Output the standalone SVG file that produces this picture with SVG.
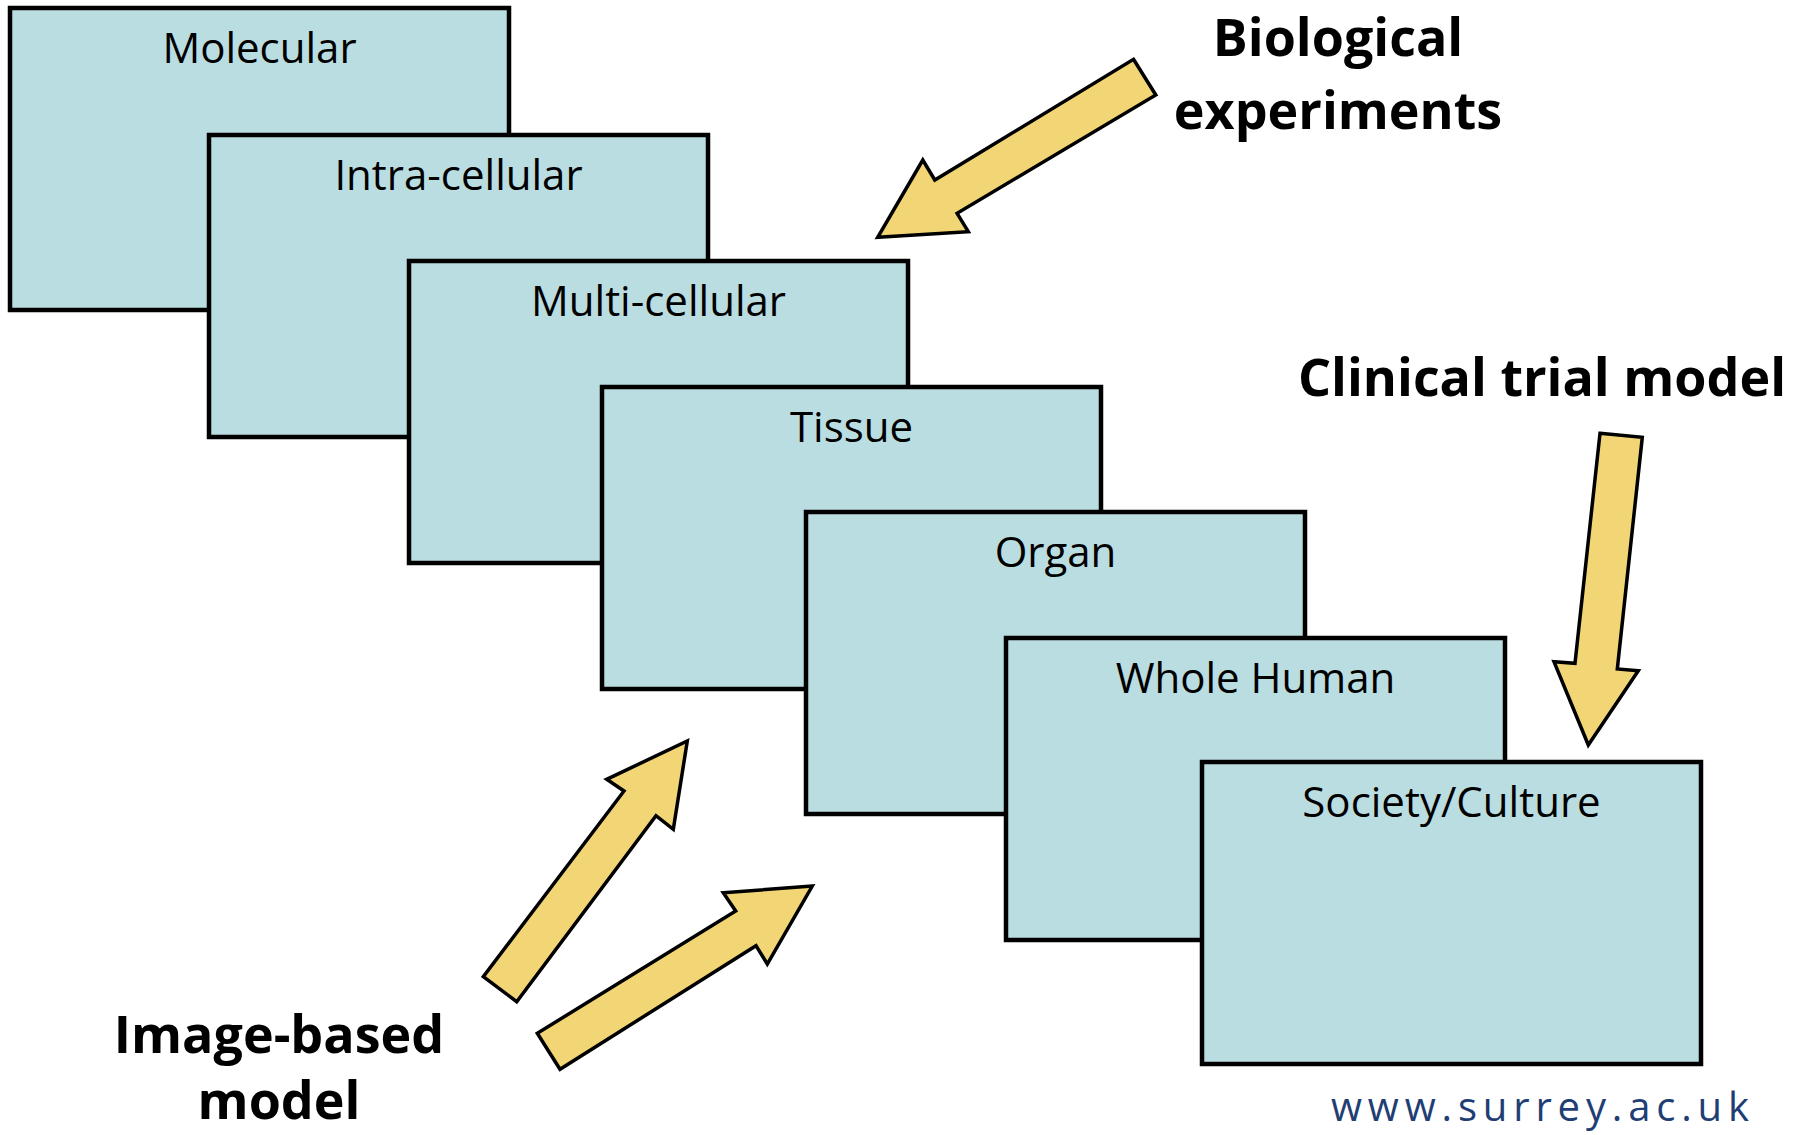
<svg xmlns="http://www.w3.org/2000/svg" width="1798" height="1135" viewBox="0 0 1798 1135">
<style>
.box{fill:#BADDE1;stroke:#000;stroke-width:4.5}
.lbl{font-family:"Open Sans","Noto Sans",sans-serif;font-size:42px;fill:#000;text-anchor:middle}
.ttl{font-family:"Open Sans","Noto Sans",sans-serif;font-size:52px;font-weight:bold;fill:#000;text-anchor:middle}
.arr{fill:#F2D675;stroke:#000;stroke-width:3.5;stroke-linejoin:miter}
.url{font-family:"Open Sans","Noto Sans",sans-serif;font-size:40px;fill:#1F3E74}
</style>
<rect width="1798" height="1135" fill="#fff"/>
<g id="molecular"><rect class="box" x="10" y="8" width="499" height="302"/><text class="lbl" x="259.5" y="63">Molecular</text></g>
<g id="intra-cellular"><rect class="box" x="209" y="135" width="499" height="302"/><text class="lbl" x="458.5" y="190">Intra-cellular</text></g>
<g id="multi-cellular"><rect class="box" x="409" y="261" width="499" height="302"/><text class="lbl" x="658.5" y="316">Multi-cellular</text></g>
<g id="tissue"><rect class="box" x="602" y="387" width="499" height="302"/><text class="lbl" x="851.5" y="442">Tissue</text></g>
<g id="organ"><rect class="box" x="806" y="512" width="499" height="302"/><text class="lbl" x="1055.5" y="567">Organ</text></g>
<g id="whole-human"><rect class="box" x="1006" y="638" width="499" height="302"/><text class="lbl" x="1255.5" y="693">Whole Human</text></g>
<g id="society-culture"><rect class="box" x="1202" y="762" width="499" height="302"/><text class="lbl" x="1451.5" y="817">Society/Culture</text></g>
<g id="connectors">
<polygon class="arr" points="1133.5,59.3 1155.8,95 957.1,213.3 968.3,231.7 877.7,237.3 922.8,160 934.8,180"/>
<polygon class="arr" points="1600,433.3 1642.3,437.3 1617.3,669 1638.3,670.7 1588.3,745 1554,661.7 1575,663.3"/>
<polygon class="arr" points="483.3,976.7 516.7,1001.7 656,815.7 673.3,829.3 687.3,741 606.7,779.3 624,791"/>
<polygon class="arr" points="537.3,1033.3 560,1069.3 756,945.7 767.3,964 812.3,886 723.3,892.7 735.7,911"/>
</g>
<g id="biological-experiments"><text class="ttl" x="1338" y="56">Biological</text><text class="ttl" x="1338" y="129">experiments</text></g>
<g id="clinical-trial-model"><text class="ttl" x="1542" y="396">Clinical trial model</text></g>
<g id="image-based-model"><text class="ttl" x="279" y="1053">Image-based</text><text class="ttl" x="279" y="1119">model</text></g>
<g id="url"><text class="url" x="1331" y="1121" textLength="418" lengthAdjust="spacing">www.surrey.ac.uk</text></g>
</svg>
